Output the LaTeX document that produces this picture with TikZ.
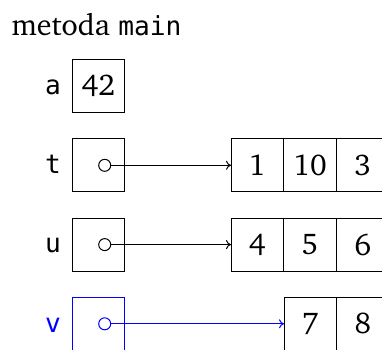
\documentclass[tikz,border=0pt]{standalone}
\usepackage[T1]{fontenc}
\usepackage{fontspec}
\usetikzlibrary{arrows.meta}
\newfontfamily\dvmono{DejaVu Sans Mono}
\newcommand\chfont{\fontencoding{T1}\fontfamily{bch}\fontseries{m}\fontshape{n}\fontsize{30}{36}\selectfont}
\newcommand\mono{\dvmono\fontsize{26.2}{32}\selectfont}
\tikzset{
  cellbox/.style={draw, line width=1pt, minimum width=52.6pt, minimum height=53pt, inner sep=0pt, outer sep=0pt, font=\chfont},
  varlbl/.style={inner sep=0pt, anchor=base east, font=\mono},
  refdot/.style={draw, circle, line width=1pt, minimum size=12pt, inner sep=0pt, outer sep=0pt},
  refarrow/.style={line width=1pt, -{To[length=5pt,width=9pt]}}
}
\begin{document}
\begin{tikzpicture}[x=1pt,y=-1pt]
\useasboundingbox (0,0) rectangle (382,349);
\clip (0,0) rectangle (382,349);
% title
\node[inner sep=0pt, anchor=base west] (title) at (11.5,35) {\chfont metoda {\mono main}};
% a
\node[cellbox] (abox) at (98.3,85.8) {42};
\node[varlbl] (alab) at ([xshift=-10.8pt,yshift=-8.2pt]abox.west) {a};
% t
\node[cellbox] (tbox) at (98.3,165.3) {};
\node[varlbl] (tlab) at ([xshift=-10.8pt,yshift=-8.2pt]tbox.west) {t};
\node[refdot] (tdot) at (104.7,165.3) {};
\node[cellbox] (t1) at (257.3,165.3) {1};
\node[cellbox] (t2) at (310,165.3) {10};
\node[cellbox] (t3) at (362.7,165.3) {3};
\draw[refarrow] (tdot.east) -- (t1.west);
% u
\node[cellbox] (ubox) at (98.3,244.6) {};
\node[varlbl] (ulab) at ([xshift=-10.8pt,yshift=-8.2pt]ubox.west) {u};
\node[refdot] (udot) at (104.7,244.6) {};
\node[cellbox] (u1) at (257.3,244.6) {4};
\node[cellbox] (u2) at (310,244.6) {5};
\node[cellbox] (u3) at (362.7,244.6) {6};
\draw[refarrow] (udot.east) -- (u1.west);
% v
\node[cellbox, draw=blue] (vbox) at (98.3,323.8) {};
\node[varlbl, text=blue] (vlab) at ([xshift=-10.8pt,yshift=-8.2pt]vbox.west) {v};
\node[refdot, draw=blue] (vdot) at (104.7,323.8) {};
\node[cellbox] (v1) at (310.3,323.8) {7};
\node[cellbox] (v2) at (363,323.8) {8};
\draw[refarrow, blue] (vdot.east) -- (v1.west);
\end{tikzpicture}
\end{document}
